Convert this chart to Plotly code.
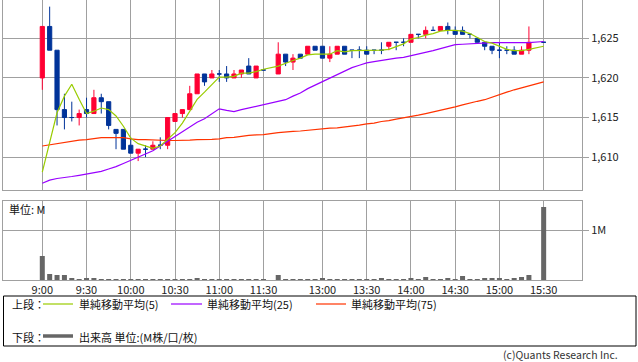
import plotly.graph_objects as go

# ---------------- data ----------------
def _slots(start_h, start_m, end_h, end_m):
    out = []
    t = start_h * 60 + start_m
    while t <= end_h * 60 + end_m:
        out.append(f"{t // 60}:{t % 60:02d}")
        t += 5
    return out

# full time axis (with lunch separator slot and the 15:25 pre-close slot empty)
slots = _slots(9, 0, 11, 30) + ["12:00"] + _slots(12, 30, 15, 30)

times = _slots(9, 0, 11, 30) + _slots(12, 30, 15, 20) + ["15:30"]

opens = [1620, 1626.5, 1623.5, 1616, 1615, 1615, 1616, 1615.5, 1617.5, 1617,
         1613.5, 1613.5, 1611.5, 1610.5, 1611, 1611, 1611.5, 1611.5, 1614.5, 1615.5,
         1616, 1618, 1620.5, 1620, 1620.5, 1620.5, 1620, 1620.5, 1621.5, 1620,
         1621,
         1620.5, 1623, 1622, 1623, 1623, 1624, 1624, 1622.5, 1623, 1624,
         1623.5, 1623.5, 1623.5, 1623.5, 1623.5, 1624, 1624.5, 1624.5, 1624.5, 1625.5,
         1625.5, 1626, 1626, 1626.5, 1626, 1626, 1625.5, 1625, 1624.5, 1624,
         1623.5, 1623.5, 1623.5, 1623, 1623.5,
         1624.5]
highs = [1626.5, 1629, 1623.5, 1618, 1617, 1616, 1617.5, 1618.5, 1618, 1617,
         1613.5, 1613.5, 1612.5, 1611, 1611.5, 1612, 1612.5, 1615, 1615.5, 1616,
         1619, 1620.5, 1620.5, 1621, 1621, 1621.5, 1621, 1621, 1622.5, 1621.5,
         1621,
         1624.5, 1623, 1623, 1623, 1624, 1624, 1624, 1624, 1624, 1624,
         1623.5, 1624, 1624, 1623.5, 1624.5, 1624.5, 1624.5, 1625, 1625.5, 1625.5,
         1626.5, 1626.5, 1626.5, 1627, 1626.5, 1626.5, 1625.5, 1625, 1624.5, 1624,
         1624.5, 1624, 1624, 1624, 1626.5,
         1624.5]
lows = [1618.5, 1623.5, 1614, 1613.5, 1614.5, 1614, 1615, 1615.5, 1615.5, 1613.5,
        1611, 1611, 1610.5, 1609.5, 1610, 1611, 1611, 1611, 1614.5, 1615,
        1616, 1618, 1619, 1620, 1619.5, 1619.5, 1620, 1620, 1620.5, 1620,
        1621,
        1620.5, 1621.5, 1621, 1622.5, 1623, 1623.5, 1622.5, 1622, 1623, 1623,
        1622.5, 1622.5, 1623, 1623, 1623, 1623.5, 1623.5, 1624, 1624.5, 1625,
        1625, 1626, 1626, 1625.5, 1625.5, 1625.5, 1625, 1624.5, 1623.5, 1623,
        1622.5, 1623, 1623, 1623, 1623,
        1624.5]
closes = [1626.5, 1623.5, 1616, 1615, 1615, 1615.5, 1615.5, 1617.5, 1617, 1614,
          1613, 1611, 1610.5, 1611, 1611, 1611.5, 1611.5, 1615, 1615.5, 1616,
          1618, 1620.5, 1619.5, 1620.5, 1620.5, 1620, 1620.5, 1621, 1620.5, 1621.5,
          1621,
          1623, 1622, 1622.5, 1622.5, 1624, 1623.5, 1622.5, 1623, 1624, 1623,
          1623.5, 1623.5, 1623, 1623.5, 1623.5, 1624.5, 1624.5, 1624.5, 1625.5, 1625.5,
          1626, 1626, 1626.5, 1626, 1625.5, 1625.5, 1625.5, 1624.5, 1624, 1623.5,
          1623.5, 1623.5, 1623, 1623.5, 1624.5,
          1624.5]

ma5 = [1608.1, 1611.8, 1615.6, 1617.7, 1619.2, 1617.3, 1615.5, 1615.8, 1616.2, 1616.0,
       1615.2, 1613.9, 1612.4, 1611.7, 1611.4, 1611.1, 1611.4, 1612.2, 1613.1, 1614.3,
       1615.8, 1617.3, 1618.2, 1619.1, 1620.1, 1620.1, 1620.2, 1620.6, 1620.6, 1620.8,
       1621.1,
       1621.5, 1621.9, 1622.2, 1622.5, 1622.9, 1623.0, 1623.0, 1623.0, 1623.45, 1623.3,
       1623.45, 1623.45, 1623.45, 1623.5, 1623.5, 1623.6, 1623.95, 1624.3, 1624.9, 1625.1,
       1625.4, 1625.6, 1625.9, 1626.0, 1626.0, 1625.9, 1625.6, 1625.1, 1624.6, 1624.4,
       1623.95, 1623.6, 1623.45, 1623.45, 1623.6,
       1624.0]
ma25 = [1606.7, 1607.1, 1607.3, 1607.4, 1607.55, 1607.7, 1607.85, 1608.0, 1608.2, 1608.5,
        1608.8, 1609.2, 1609.6, 1610.0, 1610.45, 1610.8, 1611.4, 1612.0, 1612.65, 1613.3,
        1613.9, 1614.4, 1614.85, 1615.45, 1616.1, 1615.9, 1615.75, 1616.0, 1616.2, 1616.4,
        1616.6,
        1617.0, 1617.25, 1617.7, 1618.1, 1618.65, 1619.1, 1619.6, 1620.0, 1620.4, 1620.9,
        1621.3, 1621.6, 1621.9, 1622.05, 1622.2, 1622.4, 1622.5, 1622.6, 1622.8, 1623.0,
        1623.2, 1623.45, 1623.7, 1623.95, 1624.2, 1624.25, 1624.3, 1624.4, 1624.45, 1624.45,
        1624.45, 1624.45, 1624.45, 1624.45, 1624.45,
        1624.6]
ma75 = [1611.4, 1611.55, 1611.75, 1611.9, 1612.0, 1612.15, 1612.2, 1612.35, 1612.45, 1612.45,
        1612.45, 1612.45, 1612.3, 1612.2, 1612.2, 1612.15, 1612.1, 1612.1, 1612.1, 1612.1,
        1612.15, 1612.2, 1612.2, 1612.25, 1612.3, 1612.45, 1612.5, 1612.65, 1612.75, 1612.8,
        1612.85,
        1613.1, 1613.2, 1613.25, 1613.3, 1613.4, 1613.5, 1613.6, 1613.65, 1613.7, 1613.8,
        1613.9, 1614.05, 1614.2, 1614.3, 1614.5, 1614.6, 1614.8, 1614.95, 1615.1, 1615.3,
        1615.5, 1615.7, 1615.9, 1616.1, 1616.35, 1616.6, 1616.85, 1617.05, 1617.25, 1617.6,
        1617.9, 1618.2, 1618.5, 1618.8, 1619.0,
        1619.5]

# volume in millions of shares
volume = [0.48, 0.12, 0.10, 0.10, 0.04, 0.02, 0.04, 0.04, 0.02, 0.006,
          0.02, 0.02, 0.006, 0.02, 0.02, 0.02, 0.02, 0.02, 0.02, 0.006,
          0.02, 0.04, 0.02, 0.006, 0.02, 0.02, 0.006, 0.02, 0.02, 0.006,
          0.006,
          0.10, 0.02, 0.02, 0.02, 0.02, 0.02, 0.04, 0.02, 0.006, 0.006,
          0.006, 0.02, 0.02, 0.006, 0.04, 0.006, 0.02, 0.006, 0.04, 0.006,
          0.06, 0.006, 0.006, 0.04, 0.02, 0.08, 0.02, 0.02, 0.04, 0.04,
          0.04, 0.02, 0.04, 0.06, 0.10,
          1.46]

tick_labels = ["9:00", "9:30", "10:00", "10:30", "11:00", "11:30",
               "13:00", "13:30", "14:00", "14:30", "15:00", "15:30"]
price_ticks = [1610, 1615, 1620, 1625]

# ---------------- styling ----------------
RED = "#ff0033"
BLUE = "#003399"
GREEN = "#99cc00"
PURPLE = "#9900ff"
ORANGE = "#ff3300"
VOLC = "#666666"
GRID = "#a0a0a0"
FONT = "Noto Sans CJK JP"

W, H = 638, 362
ML, MR, MT, MB = 3, 56, 0, 82
PW, PH = W - ML - MR, H - MT - MB

def px2x(px):
    return (px - ML) / PW

def py2y(py):
    return (H - MB - py) / PH

pos = {t: i for i, t in enumerate(slots)}
xs = [pos[t] for t in times]
tickvals = [pos[t] for t in tick_labels]

up = [c > o for o, c in zip(opens, closes)]

def subset(arr, flag):
    return [v for v, u in zip(arr, up) if u == flag]

fig = go.Figure()
for flag, col in [(True, RED), (False, BLUE)]:
    fig.add_trace(go.Candlestick(
        x=subset(xs, flag), open=subset(opens, flag), high=subset(highs, flag),
        low=subset(lows, flag), close=subset(closes, flag),
        increasing=dict(line=dict(color=col, width=1), fillcolor=col),
        decreasing=dict(line=dict(color=col, width=1), fillcolor=col),
        whiskerwidth=0, showlegend=False, xaxis="x", yaxis="y"))

for vals, col in [(ma75, ORANGE), (ma25, PURPLE), (ma5, GREEN)]:
    fig.add_trace(go.Scatter(x=xs, y=vals, mode="lines",
                             line=dict(color=col, width=1.2),
                             showlegend=False, xaxis="x", yaxis="y"))

fig.add_trace(go.Bar(x=xs, y=volume, width=0.68, marker=dict(color=VOLC, line=dict(width=0)),
                     showlegend=False, xaxis="x2", yaxis="y2"))

xr = [-5.33, 73.2]
axis_common = dict(showline=True, linecolor=GRID, linewidth=1, mirror=True,
                   gridcolor=GRID, gridwidth=1, zeroline=False, automargin=False)

fig.update_layout(
    width=W, height=H,
    margin=dict(l=ML, r=MR, t=MT, b=MB, pad=0),
    paper_bgcolor="white", plot_bgcolor="white",
    font=dict(family=FONT, size=11, color="#222222"),
    boxgap=0.19,
    xaxis=dict(range=xr, tickvals=tickvals, showticklabels=False, ticks="",
               anchor="y", rangeslider=dict(visible=False), **axis_common),
    yaxis=dict(domain=[py2y(190.3), 1], range=[1605.81, 1629.84], side="right",
               tickvals=price_ticks, tickformat=",", ticks="outside", ticklen=6,
               tickcolor=GRID, anchor="x", **axis_common),
    xaxis2=dict(range=xr, tickvals=tickvals, ticktext=tick_labels, ticks="",
                anchor="y2", matches="x", **axis_common),
    yaxis2=dict(domain=[0, py2y(201)], range=[0, 1.58], side="right",
                tickvals=[1], ticktext=["1M"], ticks="outside", ticklen=6,
                tickcolor=GRID, anchor="x2", **axis_common),
)

annots = [
    dict(text="単位: M", x=px2x(8), y=py2y(209), xanchor="left", yanchor="middle"),
    dict(text="上段：", x=px2x(11), y=py2y(304), xanchor="left", yanchor="middle"),
    dict(text="単純移動平均(5)", x=px2x(78), y=py2y(304), xanchor="left", yanchor="middle"),
    dict(text="単純移動平均(25)", x=px2x(206), y=py2y(304), xanchor="left", yanchor="middle"),
    dict(text="単純移動平均(75)", x=px2x(350), y=py2y(304), xanchor="left", yanchor="middle"),
    dict(text="下段：", x=px2x(11), y=py2y(337), xanchor="left", yanchor="middle"),
    dict(text="出来高 単位:(M株/口/枚)", x=px2x(78), y=py2y(337), xanchor="left", yanchor="middle"),
    dict(text="(c)Quants Research Inc.", x=px2x(619), y=py2y(354.5), xanchor="right",
         yanchor="middle", font=dict(size=10.5, color="#333333")),
]
for a in annots:
    a.setdefault("font", dict(size=11, color="#111111"))
    fig.add_annotation(xref="paper", yref="paper", showarrow=False, borderpad=0, **a)

shapes = [
    dict(type="rect", x0=px2x(3.5), x1=px2x(636), y0=py2y(296), y1=py2y(346),
         line=dict(color="#000000", width=1)),
    dict(type="line", x0=px2x(43), x1=px2x(73), y0=py2y(304), y1=py2y(304),
         line=dict(color=GREEN, width=1.2)),
    dict(type="line", x0=px2x(171), x1=px2x(202), y0=py2y(304), y1=py2y(304),
         line=dict(color=PURPLE, width=1.2)),
    dict(type="line", x0=px2x(316), x1=px2x(346), y0=py2y(304), y1=py2y(304),
         line=dict(color=ORANGE, width=1.2)),
    dict(type="line", x0=px2x(43), x1=px2x(73), y0=py2y(336), y1=py2y(336),
         line=dict(color=VOLC, width=3.5)),
]
for s in shapes:
    fig.add_shape(xref="paper", yref="paper", **s)

fig.write_html("out.html")
